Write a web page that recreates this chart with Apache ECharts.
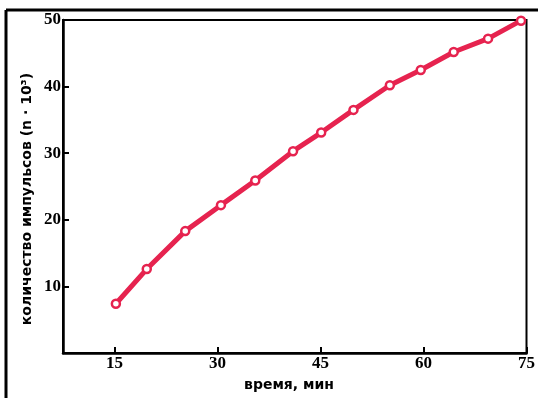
<!DOCTYPE html>
<html><head><meta charset="utf-8">
<script src="https://cdn.jsdelivr.net/npm/echarts@6/dist/echarts.min.js"></script>
<style>html,body{margin:0;padding:0;background:#fff}#c{width:538px;height:398px}</style>
</head><body><div id="c"></div>
<script>
var times = [15.2, 19.7, 25.3, 30.5, 35.5, 41.0, 45.1, 49.8, 55.1, 59.6, 64.4, 69.4, 74.2];
var counts = [7.4, 12.6, 18.3, 22.2, 25.9, 30.3, 33.1, 36.5, 40.2, 42.5, 45.2, 47.2, 49.9];
var xTicks = [15, 30, 45, 60, 75];
var yTicks = [10, 20, 30, 40, 50];
var xName = 'время, мин';
var yName = 'количество импульсов (n · 10³)';

var chart = echarts.init(document.getElementById('c'));
chart.setOption({
  animation: false,
  backgroundColor: '#fff',
  grid: {left: 63, top: 20, width: 467, height: 333, show: true, borderColor: '#000', borderWidth: 2},
  xAxis: {
    type: 'value', min: 7.5, max: 75,
    axisLine: {show: true, lineStyle: {color: '#000', width: 2.5}},
    axisTick: {show: true, inside: true, length: 6, customValues: xTicks, lineStyle: {color: '#000', width: 2}},
    axisLabel: {customValues: xTicks, color: '#000', fontFamily: 'Liberation Serif', fontWeight: 'bold', fontSize: 17, margin: 2},
    splitLine: {show: false}
  },
  yAxis: {
    type: 'value', min: 0, max: 50,
    axisLine: {show: true, lineStyle: {color: '#000', width: 2.5}},
    axisTick: {show: true, inside: true, length: 6, customValues: yTicks, lineStyle: {color: '#000', width: 2}},
    axisLabel: {customValues: yTicks, color: '#000', fontFamily: 'Liberation Serif', fontWeight: 'bold', fontSize: 17, margin: 2},
    splitLine: {show: false}
  },
  series: [{
    type: 'line',
    data: times.map(function (t, i) { return [t, counts[i]]; }),
    lineStyle: {color: '#e6234f', width: 5},
    symbol: 'circle', symbolSize: 8,
    itemStyle: {color: '#fff', borderColor: '#e6234f', borderWidth: 2.5},
    z: 3
  }],
  graphic: [
    {type: 'line', shape: {x1: 6, y1: 10, x2: 538, y2: 10}, style: {stroke: '#000', lineWidth: 3}},
    {type: 'line', shape: {x1: 6, y1: 10, x2: 6, y2: 398}, style: {stroke: '#000', lineWidth: 3}},
    {type: 'text', x: 289, y: 385, style: {text: xName, fill: '#000', font: 'bold 14px "DejaVu Sans"', align: 'center', verticalAlign: 'middle'}},
    {type: 'text', x: 27, y: 199, rotation: Math.PI / 2, style: {text: yName, fill: '#000', font: 'bold 14px "DejaVu Sans"', align: 'center', verticalAlign: 'middle'}}
  ]
});
</script></body></html>
